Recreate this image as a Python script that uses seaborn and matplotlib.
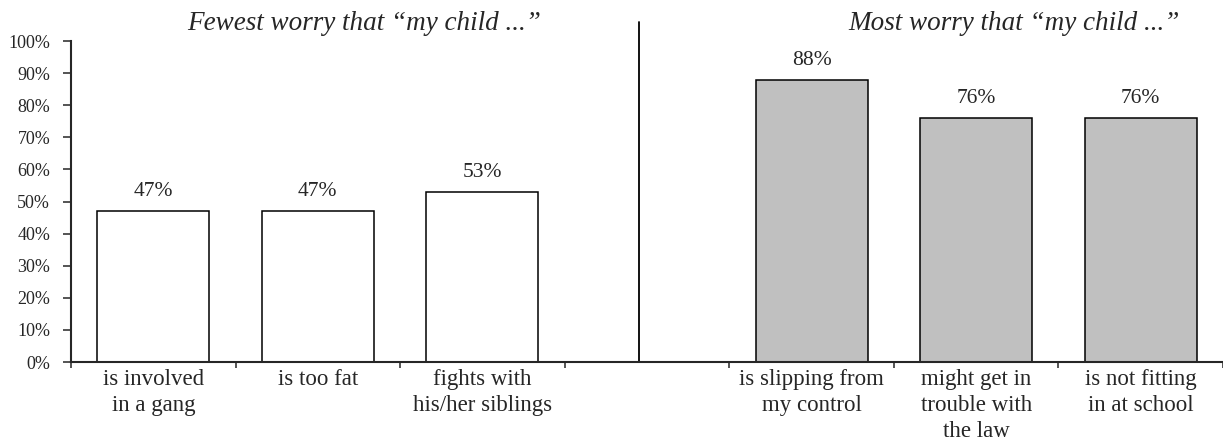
import matplotlib
matplotlib.use('Agg')
import matplotlib.pyplot as plt
import numpy as np
import pandas as pd
import seaborn as sns

sns.set_style('ticks')
plt.rcParams['font.family'] = ['Liberation Serif', 'DejaVu Serif']

# data
slots = ['is involved\nin a gang', 'is too fat', 'fights with\nhis/her siblings', '',
         'is slipping from\nmy control', 'might get in\ntrouble with\nthe law', 'is not fitting\nin at school']
categories = ['is involved\nin a gang', 'is too fat', 'fights with\nhis/her siblings',
              'is slipping from\nmy control', 'might get in\ntrouble with\nthe law', 'is not fitting\nin at school']
values = [47, 47, 53, 88, 76, 76]
groups = ['fewest', 'fewest', 'fewest', 'most', 'most', 'most']
titles = ['Fewest worry that \u201cmy child ...\u201d', 'Most worry that \u201cmy child ...\u201d']

df = pd.DataFrame({'cat': categories, 'val': values, 'grp': groups})

fig = plt.figure(figsize=(12.23, 4.40), dpi=100)
ax = fig.add_axes([71 / 1223, 1 - 362 / 440, 1 - 71 / 1223, 321 / 440])

sns.barplot(data=df, x='cat', y='val', hue='grp', order=slots,
            palette={'fewest': 'white', 'most': '#c0c0c0'}, dodge=False,
            edgecolor='black', linewidth=1.1, width=0.68, legend=False, ax=ax)

for cont in ax.containers:
    ax.bar_label(cont, fmt='%d%%', padding=7, fontsize=15.5)

ax.set_xlim(-0.5, -0.5 + (1223 - 70) / 166.2)
ax.set_ylim(0, 100)
ax.set_yticks(np.arange(0, 101, 10))
ax.set_yticklabels([f'{v}%' for v in range(0, 101, 10)], fontsize=13)
ax.tick_params(axis='y', length=6, width=1.1, pad=9, direction='out')

ax.set_xticks(np.arange(-0.5, len(slots), 1))
ax.set_xticklabels([''] * len(np.arange(-0.5, len(slots), 1)))
ax.set_xticks(range(len(slots)), minor=True)
ax.set_xticklabels(slots, minor=True, fontsize=16.5, linespacing=1.3)
ax.tick_params(axis='x', which='major', length=4, width=1.1, direction='out')
ax.tick_params(axis='x', which='minor', length=0, pad=5)

ax.set_xlabel('')
ax.set_ylabel('')
sns.despine(ax=ax, top=True, right=True)
for side in ['left', 'bottom']:
    ax.spines[side].set_linewidth(1.5)

# divider between the two groups
ax.plot([2.95, 2.95], [0, 106], color='black', lw=1.3, clip_on=False)

ax.text(1.28, 105.5, titles[0], ha='center', va='center', fontsize=19.5, style='italic')
ax.text(5.23, 105.5, titles[1], ha='center', va='center', fontsize=19.5, style='italic')

fig.savefig('out.png', dpi=100)
